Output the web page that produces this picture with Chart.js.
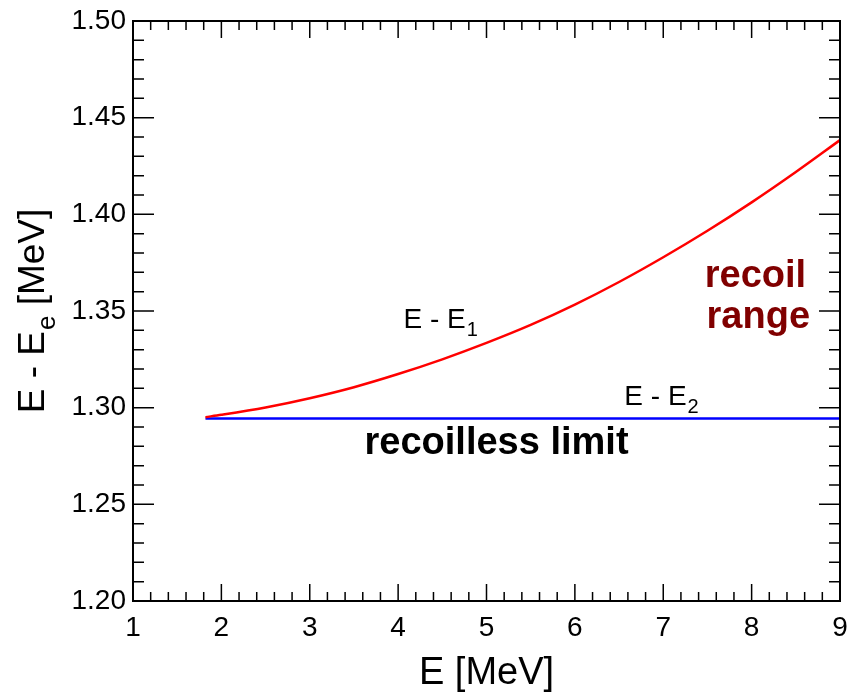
<!DOCTYPE html>
<html>
<head>
<meta charset="utf-8">
<title>E - Ee vs E</title>
<script src="https://cdn.jsdelivr.net/npm/chart.js@4.4.1/dist/chart.umd.min.js"></script>
<style>
  body { margin: 0; background: #fff; }
  #wrap { width: 848px; height: 700px; }
</style>
</head>
<body>
<div id="wrap"><canvas id="chart" width="848" height="700"></canvas></div>
<script>
// ================= DATA =================

// upper edge of the recoil range, E - E1 [MeV]
const energy = [1.82, 2.0, 2.5, 3.0, 3.5, 4.0, 4.5, 5.0, 5.5, 6.0, 6.5, 7.0, 7.5, 8.0, 8.5, 9.0];
const recoilMax = [1.2951, 1.2963, 1.3001, 1.3049, 1.3106, 1.3174, 1.3250, 1.3335,
                   1.3428, 1.3533, 1.3650, 1.3778, 1.3915, 1.4062, 1.4219, 1.4384];

// recoilless limit, E - E2 [MeV]
const limitEnergy = [1.82, 9.0];
const limitValue = [1.2944, 1.2944];

// axis ranges / tick steps
const xRange = [1, 9];
const yRange = [1.20, 1.50];
const xMajor = 1, xMinor = 0.2;
const yMajor = 0.05, yMinor = 0.01;

const FONT = "'Liberation Sans', Arial, Helvetica, sans-serif";

// ================= HELPERS =================

function toPoints(xs, ys) {
    return xs.map((v, i) => ({ x: v, y: ys[i] }));
}

// text with a subscript, left aligned on the baseline
function drawSub(ctx, main, sub, x, y, size, weight) {
    ctx.font = (weight || "normal") + " " + size + "px " + FONT;
    ctx.fillText(main, x, y);
    const w = ctx.measureText(main).width;
    ctx.font = (weight || "normal") + " " + Math.round(size * 0.7) + "px " + FONT;
    ctx.fillText(sub, x + w + 1, y + size * 0.3);
    return w + 1 + ctx.measureText(sub).width;
}

// ================= FRAME + TICKS (ROOT style) =================

const frameTicks = {
    id: "frameTicks",
    afterDatasetsDraw(chart) {
        const { ctx, chartArea: a, scales: { x, y } } = chart;
        ctx.save();
        ctx.strokeStyle = "#000";
        ctx.lineWidth = 1.5;

        // x ticks, bottom and top, pointing inward
        const nx = Math.round((xRange[1] - xRange[0]) / xMinor);
        for (let i = 0; i <= nx; i++) {
            const px = x.getPixelForValue(xRange[0] + i * xMinor);
            const len = (i % Math.round(xMajor / xMinor) === 0) ? 17 : 9;
            ctx.beginPath();
            ctx.moveTo(px, a.bottom); ctx.lineTo(px, a.bottom - len);
            ctx.moveTo(px, a.top); ctx.lineTo(px, a.top + len);
            ctx.stroke();
        }

        // y ticks, left and right
        const ny = Math.round((yRange[1] - yRange[0]) / yMinor);
        for (let i = 0; i <= ny; i++) {
            const py = y.getPixelForValue(yRange[0] + i * yMinor);
            const len = (i % Math.round(yMajor / yMinor) === 0) ? 21 : 11;
            ctx.beginPath();
            ctx.moveTo(a.left, py); ctx.lineTo(a.left + len, py);
            ctx.moveTo(a.right, py); ctx.lineTo(a.right - len, py);
            ctx.stroke();
        }

        ctx.lineWidth = 2;
        ctx.strokeRect(a.left, a.top, a.right - a.left, a.bottom - a.top);
        ctx.restore();
    },
    afterDraw(chart) {
        const { ctx, chartArea: a, scales: { x, y } } = chart;
        ctx.save();
        ctx.textBaseline = "alphabetic";
        ctx.textAlign = "left";

        // curve labels
        ctx.fillStyle = "#000";
        drawSub(ctx, "E - E", "1", x.getPixelForValue(4.06), y.getPixelForValue(1.3412), 28);
        drawSub(ctx, "E - E", "2", x.getPixelForValue(6.56), y.getPixelForValue(1.3014), 28);

        ctx.font = "bold 38px " + FONT;
        ctx.fillText("recoilless limit", x.getPixelForValue(3.62), y.getPixelForValue(1.2760));

        ctx.fillStyle = "#800000";
        ctx.fillText("recoil", x.getPixelForValue(7.47), y.getPixelForValue(1.3624));
        ctx.fillText("range", x.getPixelForValue(7.49), y.getPixelForValue(1.3412));

        // y axis title (has a subscript, so drawn by hand)
        ctx.fillStyle = "#000";
        ctx.font = "37px " + FONT;
        const w1 = ctx.measureText("E - E").width;
        const w3 = ctx.measureText(" [MeV]").width;
        ctx.font = "26px " + FONT;
        const w2 = ctx.measureText("e").width + 1;
        const total = w1 + w2 + w3;
        ctx.translate(44, (a.top + a.bottom) / 2 + total / 2);
        ctx.rotate(-Math.PI / 2);
        const sw = drawSub(ctx, "E - E", "e", 0, 0, 37);
        ctx.font = "37px " + FONT;
        ctx.fillText(" [MeV]", sw, 0);
        ctx.restore();
    }
};

// ================= CHART =================

new Chart(document.getElementById("chart"), {

    type: "line",

    data: {
        datasets: [
            {
                label: "E - E1",
                data: toPoints(energy, recoilMax),
                borderColor: "#ff0000",
                borderWidth: 2.5,
                pointRadius: 0,
                cubicInterpolationMode: "monotone",
                fill: false
            },
            {
                label: "E - E2",
                data: toPoints(limitEnergy, limitValue),
                borderColor: "#0000ff",
                borderWidth: 2.5,
                pointRadius: 0,
                fill: false
            }
        ]
    },

    options: {
        responsive: false,
        animation: false,
        devicePixelRatio: 1,
        layout: {
            padding: { top: 21, right: 8, left: 0, bottom: 0 }
        },
        plugins: {
            legend: { display: false },
            tooltip: { enabled: false },
            title: { display: false }
        },
        scales: {
            x: {
                type: "linear",
                min: xRange[0],
                max: xRange[1],
                grid: { display: false, drawTicks: false },
                border: { display: false },
                ticks: {
                    stepSize: xMajor,
                    maxRotation: 0,
                    padding: 10,
                    color: "#000",
                    font: { family: FONT, size: 28 },
                    callback: v => String(v)
                },
                title: {
                    display: true,
                    text: "E [MeV]",
                    color: "#000",
                    font: { family: FONT, size: 38 },
                    padding: { top: 6 }
                },
                afterFit: s => {
                    s.height = 99;
                    s.paddingLeft = 0;
                    s.paddingRight = 0;
                }
            },
            y: {
                min: yRange[0],
                max: yRange[1],
                grid: { display: false, drawTicks: false },
                border: { display: false },
                ticks: {
                    stepSize: yMajor,
                    padding: 7,
                    color: "#000",
                    font: { family: FONT, size: 28 },
                    callback: v => v.toFixed(2)
                },
                afterFit: s => {
                    s.width = 133;
                    s.paddingTop = 0;
                    s.paddingBottom = 0;
                }
            }
        }
    },

    plugins: [frameTicks]

});
</script>
</body>
</html>
